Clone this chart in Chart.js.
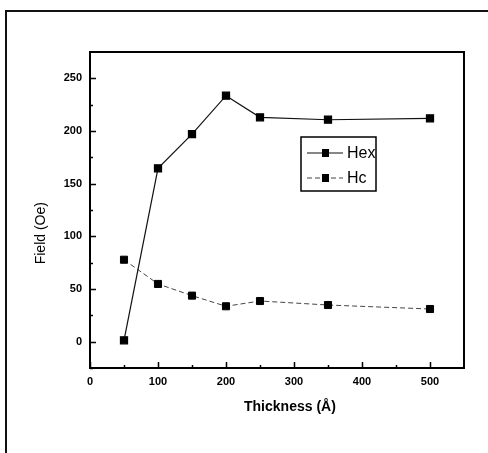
<!DOCTYPE html>
<html>
<head>
<meta charset="utf-8">
<script src="https://cdn.jsdelivr.net/npm/chart.js@4.4.1/dist/chart.umd.min.js"></script>
<style>
  html, body { margin: 0; padding: 0; background: #fff; }
  #wrap { position: relative; width: 488px; height: 453px; overflow: hidden; }
  #frame { position: absolute; left: 5px; top: 10px; width: 600px; height: 600px; border-left: 2px solid #111; border-top: 2px solid #111; }
  canvas { position: absolute; left: 0; top: 0; }
</style>
</head>
<body>
<div id="wrap">
  <div id="frame"></div>
  <canvas id="chart" width="488" height="453"></canvas>
</div>
<script>
// data
const thickness = [50, 100, 150, 200, 250, 350, 500];
const hexValues = [1.3, 164.6, 197.1, 233.5, 213, 210.7, 212];
const hcValues = [77.8, 54.8, 43.7, 33.6, 38.6, 34.8, 31];
const xTickLabels = [0, 100, 200, 300, 400, 500];
const yTickLabels = [0, 50, 100, 150, 200, 250];
const xMinorTicks = [50, 150, 250, 350, 450];
const yMinorTicks = [-25, 25, 75, 125, 175, 225];

const FONT = "'Liberation Sans', Arial, sans-serif";

// frame, inward ticks, axis titles and the boxed legend
const figurePlugin = {
  id: "figure",
  afterDraw(chart) {
    const ctx = chart.ctx;
    const area = chart.chartArea;
    const xs = chart.scales.x;
    const ys = chart.scales.y;

    ctx.save();
    ctx.strokeStyle = "#000";
    ctx.lineWidth = 2;
    ctx.strokeRect(area.left, area.top, area.right - area.left, area.bottom - area.top);

    ctx.lineWidth = 1.5;
    ctx.beginPath();
    xTickLabels.forEach(v => {
      const px = Math.round(xs.getPixelForValue(v)) + 0.5;
      ctx.moveTo(px, area.bottom);
      ctx.lineTo(px, area.bottom - 6);
    });
    xMinorTicks.forEach(v => {
      const px = Math.round(xs.getPixelForValue(v)) + 0.5;
      ctx.moveTo(px, area.bottom);
      ctx.lineTo(px, area.bottom - 3);
    });
    yTickLabels.forEach(v => {
      const py = Math.round(ys.getPixelForValue(v)) + 0.5;
      ctx.moveTo(area.left, py);
      ctx.lineTo(area.left + 6, py);
    });
    yMinorTicks.forEach(v => {
      const py = Math.round(ys.getPixelForValue(v)) + 0.5;
      ctx.moveTo(area.left, py);
      ctx.lineTo(area.left + 3, py);
    });
    ctx.stroke();

    // axis titles
    ctx.fillStyle = "#000";
    ctx.textAlign = "center";
    ctx.textBaseline = "middle";
    ctx.font = "bold 14px " + FONT;
    ctx.fillText("Thickness (Å)", xs.getPixelForValue(294), 407);

    ctx.save();
    ctx.translate(41, ys.getPixelForValue(103));
    ctx.rotate(-Math.PI / 2);
    ctx.font = "14px " + FONT;
    ctx.fillText("Field (Oe)", 0, 0);
    ctx.restore();

    // legend box
    const box = { x: 301, y: 137, w: 75, h: 54 };
    ctx.lineWidth = 1.5;
    ctx.strokeRect(box.x, box.y, box.w, box.h);
    ctx.font = "16px " + FONT;
    ctx.textAlign = "left";
    chart.data.datasets.forEach((ds, i) => {
      const cy = box.y + 16 + i * 25;
      ctx.strokeStyle = ds.borderColor;
      ctx.lineWidth = ds.borderWidth;
      ctx.setLineDash(ds.borderDash || []);
      ctx.beginPath();
      ctx.moveTo(box.x + 6, cy);
      ctx.lineTo(box.x + 42, cy);
      ctx.stroke();
      ctx.setLineDash([]);
      ctx.fillStyle = "#000";
      ctx.fillRect(box.x + 21, cy - 4, 7, 8);
      ctx.fillText(ds.label, box.x + 46, cy + 1);
    });
    ctx.restore();
  }
};

new Chart(document.getElementById("chart"), {
  type: "line",
  data: {
    datasets: [
      {
        label: "Hex",
        data: thickness.map((t, i) => ({ x: t, y: hexValues[i] })),
        borderColor: "#111",
        borderWidth: 1.2,
        pointStyle: "rect",
        pointRadius: 5,
        pointBackgroundColor: "#000",
        pointBorderColor: "#000",
        tension: 0
      },
      {
        label: "Hc",
        data: thickness.map((t, i) => ({ x: t, y: hcValues[i] })),
        borderColor: "#444",
        borderWidth: 1,
        borderDash: [5, 3],
        pointStyle: "rect",
        pointRadius: 5,
        pointBackgroundColor: "#000",
        pointBorderColor: "#000",
        tension: 0
      }
    ]
  },
  options: {
    responsive: false,
    animation: false,
    layout: { padding: { left: 0, right: 24, top: 52, bottom: 0 } },
    plugins: { legend: { display: false }, tooltip: { enabled: false } },
    scales: {
      x: {
        type: "linear",
        min: 0,
        max: 550,
        grid: { display: false, drawTicks: false },
        border: { display: false },
        afterBuildTicks: s => { s.ticks = xTickLabels.map(v => ({ value: v })); },
        afterFit: s => { s.height = 85; },
        ticks: { color: "#000", padding: 7, maxRotation: 0, font: { family: FONT, size: 11, weight: "bold" } }
      },
      y: {
        type: "linear",
        min: -25,
        max: 275,
        grid: { display: false, drawTicks: false },
        border: { display: false },
        afterBuildTicks: s => { s.ticks = yTickLabels.map(v => ({ value: v })); },
        afterFit: s => { s.width = 90; },
        ticks: { color: "#000", padding: 8, font: { family: FONT, size: 11, weight: "bold" } }
      }
    }
  },
  plugins: [figurePlugin]
});
</script>
</body>
</html>
